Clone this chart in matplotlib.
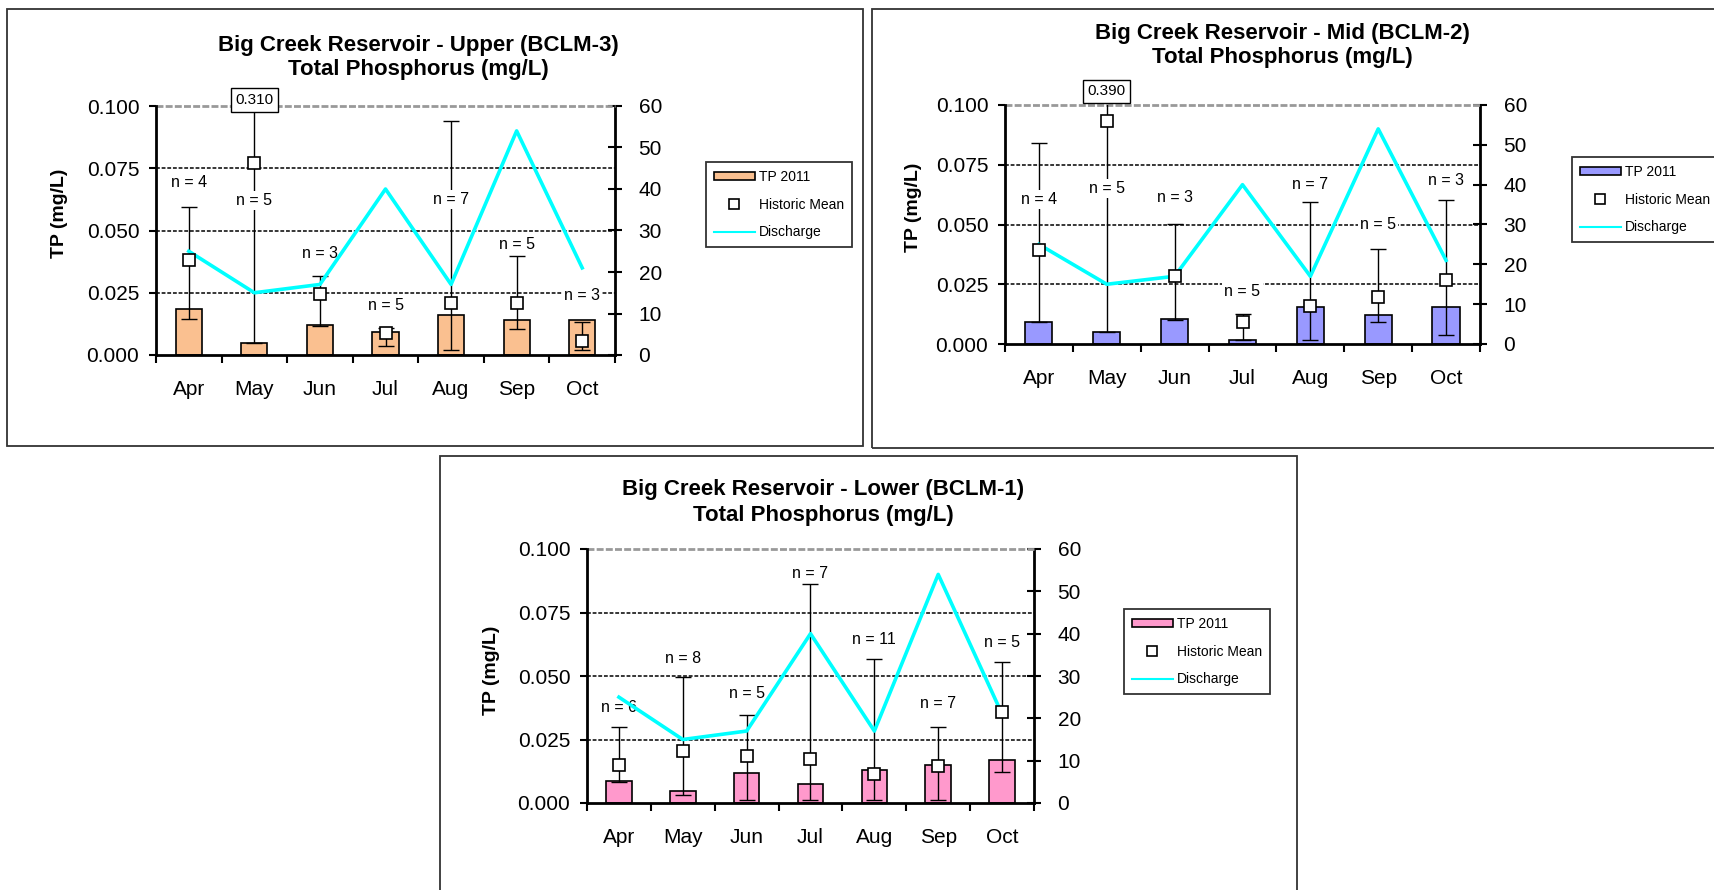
import matplotlib
matplotlib.use("Agg")
import matplotlib.pyplot as plt
from matplotlib.patches import Rectangle, Patch
from matplotlib.lines import Line2D
import numpy as np

plt.rcParams['font.family'] = ['Liberation Sans', 'DejaVu Sans']

# ---- data ----
months = ["Apr", "May", "Jun", "Jul", "Aug", "Sep", "Oct"]
discharge = [25, 15, 17, 40, 17, 54, 21]

upper_tp2011 = [0.0183, 0.0049, 0.0122, 0.0092, 0.0159, 0.0140, 0.0140]
upper_hist_mean = [0.0380, 0.0770, 0.0246, 0.0090, 0.0210, 0.0207, 0.0057]
upper_hist_min = [0.0146, 0.0050, 0.0116, 0.0036, 0.0019, 0.0103, 0.0019]
upper_hist_max = [0.0596, 0.310, 0.0317, 0.0110, 0.0938, 0.0396, 0.0134]
upper_n = [4, 5, 3, 5, 7, 5, 3]

mid_tp2011 = [0.0090, 0.0049, 0.0103, 0.0018, 0.0155, 0.0123, 0.0155]
mid_hist_mean = [0.0393, 0.0935, 0.0285, 0.0093, 0.0161, 0.0196, 0.0267]
mid_hist_min = [0.0090, 0.0049, 0.0099, 0.0018, 0.0018, 0.0090, 0.0038]
mid_hist_max = [0.0842, 0.390, 0.0501, 0.0127, 0.0593, 0.0398, 0.0603]
mid_n = [4, 5, 3, 5, 7, 5, 3]

lower_tp2011 = [0.0088, 0.0046, 0.0118, 0.0076, 0.0129, 0.0149, 0.0171]
lower_hist_mean = [0.0151, 0.0204, 0.0187, 0.0174, 0.0114, 0.0145, 0.0359]
lower_hist_min = [0.0083, 0.0033, 0.0013, 0.0013, 0.0013, 0.0013, 0.0122]
lower_hist_max = [0.0299, 0.0496, 0.0346, 0.0862, 0.0568, 0.0299, 0.0557]
lower_n = [6, 8, 5, 7, 11, 7, 5]

# ---- layout (figure pixels) ----
W, H = 1714, 890
fig = plt.figure(figsize=(W / 100, H / 100), dpi=100)


def fx(x):
    return x / W


def fy(y):
    return 1 - y / H


panels = [
    dict(title="Big Creek Reservoir - Upper (BCLM-3)",
         tp=upper_tp2011, mean=upper_hist_mean, lo=upper_hist_min,
         hi=upper_hist_max, n=upper_n, color="#FAC090",
         box=(7, 9, 863, 446), axes=(156, 106, 615, 355),
         title_xy=(418, 45), ylabel_xy=(59, 213),
         legend_xy=(706, 162),
         n_y=[0.0694, 0.0620, 0.0408, 0.0200, 0.0624, 0.0444, 0.0237],
         over_y=0.1024),
    dict(title="Big Creek Reservoir - Mid (BCLM-2)",
         tp=mid_tp2011, mean=mid_hist_mean, lo=mid_hist_min,
         hi=mid_hist_max, n=mid_n, color="#9999FF",
         box=(872, 9, 1730, 448), axes=(1005, 105, 1480, 344),
         title_xy=(1282, 33), ylabel_xy=(913, 207),
         legend_xy=(1572, 157),
         n_y=[0.0603, 0.0650, 0.0612, 0.0219, 0.0668, 0.0501, 0.0685],
         over_y=0.1058),
    dict(title="Big Creek Reservoir - Lower (BCLM-1)",
         tp=lower_tp2011, mean=lower_hist_mean, lo=lower_hist_min,
         hi=lower_hist_max, n=lower_n, color="#FF99CC",
         box=(440, 456, 1297, 900), axes=(587, 549, 1034, 803),
         title_xy=(823, 490), ylabel_xy=(491, 670),
         legend_xy=(1124, 609),
         n_y=[0.0375, 0.0570, 0.0430, 0.0904, 0.0642, 0.0392, 0.0632],
         over_y=None),
]

x = np.arange(len(months))

for p in panels:
    # panel frame
    bx0, by0, bx1, by1 = p["box"]
    fig.patches.append(Rectangle((fx(bx0), fy(by1)), fx(bx1 - bx0), (by1 - by0) / H,
                                 transform=fig.transFigure, fill=False,
                                 edgecolor="#333333", linewidth=1.3))

    ax0, ay0, ax1, ay1 = p["axes"]
    ax = fig.add_axes([fx(ax0), fy(ay1), fx(ax1 - ax0), (ay1 - ay0) / H])
    ax2 = ax.twinx()
    ax.set_zorder(ax2.get_zorder() + 1)
    ax.patch.set_visible(False)

    ax.set_xlim(-0.5, len(months) - 0.5)
    ax.set_ylim(0, 0.100)
    ax2.set_ylim(0, 60)

    # grid
    for g in [0.025, 0.050, 0.075]:
        ax.axhline(g, color="black", linestyle=(0, (2.5, 1.2)), linewidth=1.1, zorder=0.5)
    ax.axhline(0.100, color="#999999", linestyle=(0, (2.5, 0.8)), linewidth=2.0, zorder=0.5, clip_on=False)

    # bars
    ax.bar(x, p["tp"], width=0.4, color=p["color"], edgecolor="black", linewidth=1.2, zorder=2)

    # historic range
    mean = np.array(p["mean"])
    lo = np.array(p["lo"])
    hi = np.array(p["hi"])
    ax.errorbar(x, mean, yerr=[mean - lo, hi - mean], fmt="none", ecolor="black",
                elinewidth=1.0, capsize=6, capthick=1.0, zorder=3)

    # sample counts
    for xi, n, ny in zip(x, p["n"], p["n_y"]):
        ax.text(xi, ny, f"n = {n}", ha="center", va="center", fontsize=11.5, zorder=4,
                bbox=dict(facecolor="white", edgecolor="none", pad=1.5))

    # discharge line on secondary scale
    ax.plot(x, discharge, color="#00FFFF", linewidth=2.6, zorder=5,
            transform=ax2.transData, clip_on=False)

    # historic mean markers
    ax.plot(x, mean, linestyle="none", marker="s", markersize=8.5, markerfacecolor="white",
            markeredgecolor="black", markeredgewidth=1.2, zorder=6)

    # off-scale maximum
    if p["over_y"] is not None:
        imax = int(np.argmax(hi))
        ax.text(x[imax], p["over_y"], f"{hi[imax]:.3f}", ha="center", va="center",
                fontsize=11, zorder=7, clip_on=False,
                bbox=dict(facecolor="white", edgecolor="black", linewidth=1.0,
                          boxstyle="square,pad=0.3"))

    # axes styling
    ax.spines["top"].set_visible(False)
    ax2.spines["top"].set_visible(False)
    for s in ["left", "bottom"]:
        ax.spines[s].set_linewidth(2.0)
    ax2.spines["right"].set_linewidth(2.0)
    ax2.spines["left"].set_visible(False)
    ax2.spines["bottom"].set_visible(False)
    ax.spines["right"].set_visible(False)

    ax.set_yticks([0, 0.025, 0.050, 0.075, 0.100])
    ax.set_yticklabels(["0.000", "0.025", "0.050", "0.075", "0.100"])
    ax.tick_params(axis="y", direction="out", length=5, width=1.5, pad=7, labelsize=15)

    ax2.set_yticks([0, 10, 20, 30, 40, 50, 60])
    ax2.tick_params(axis="y", direction="inout", length=10, width=1.5, pad=12, labelsize=15)

    ax.set_xticks(np.arange(-0.5, len(months), 1.0))
    ax.set_xticklabels([])
    ax.set_xticks(x, minor=True)
    ax.set_xticklabels(months, minor=True)
    ax.tick_params(axis="x", which="major", direction="out", length=6, width=1.5)
    ax.tick_params(axis="x", which="minor", length=0, pad=18, labelsize=15)

    # titles and y label
    tx, ty = p["title_xy"]
    lines = p["title"], "Total Phosphorus (mg/L)"
    fig.text(fx(tx), fy(ty), lines[0], ha="center", va="center", fontsize=16, fontweight="bold")
    fig.text(fx(tx), fy(ty + 25), lines[1], ha="center", va="center", fontsize=16, fontweight="bold")
    lx, ly = p["ylabel_xy"]
    fig.text(fx(lx), fy(ly), "TP (mg/L)", rotation=90, ha="center", va="center",
             fontsize=14, fontweight="bold")

    # legend
    handles = [
        Patch(facecolor=p["color"], edgecolor="black", linewidth=1.2),
        Line2D([], [], linestyle="none", marker="s", markersize=6.5, markerfacecolor="white",
               markeredgecolor="black", markeredgewidth=1.2),
        Line2D([], [], color="#00FFFF", linewidth=1.5),
    ]
    lgx, lgy = p["legend_xy"]
    leg = fig.legend(handles, ["TP 2011", "Historic Mean", "Discharge"],
                     loc="upper left", bbox_to_anchor=(fx(lgx), fy(lgy)),
                     bbox_transform=fig.transFigure, fontsize=10, frameon=True,
                     fancybox=False, edgecolor="black", handlelength=3.0,
                     handleheight=0.5, handletextpad=0.25, labelspacing=1.0,
                     borderpad=0.55, borderaxespad=0)
    leg.get_frame().set_linewidth(1.3)

fig.savefig("out.png", dpi=100)
